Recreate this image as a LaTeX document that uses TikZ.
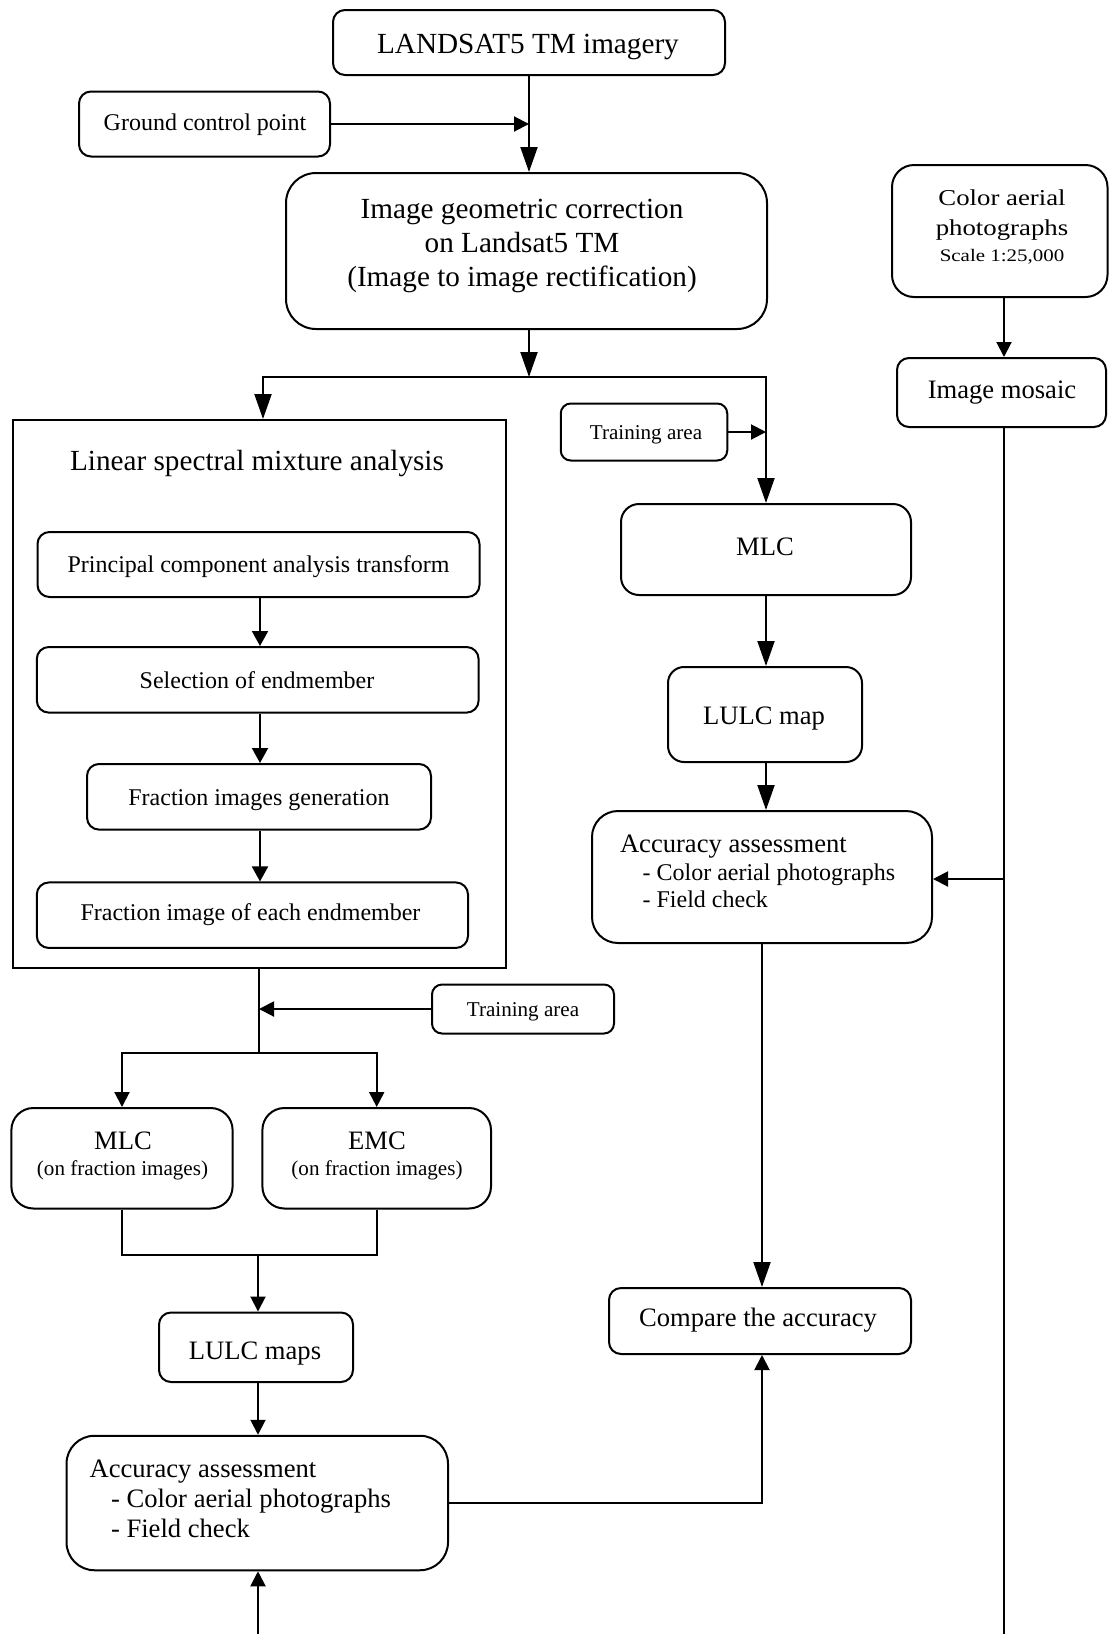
\documentclass[tikz,border=0pt]{standalone}
\usepackage{fontspec}
\setmainfont{Liberation Serif}
\usetikzlibrary{arrows.meta}
\newcommand\FSbig{\fontsize{29.2}{34}\selectfont}
\newcommand\FSmid{\fontsize{26.6}{30}\selectfont}
\newcommand\FSsub{\fontsize{24}{28}\selectfont}
\newcommand\FSsmall{\fontsize{21.1}{25}\selectfont}
\newcommand\FScol{\fontsize{22.7}{27}\selectfont}
\newcommand\FSscl{\fontsize{17.6}{21}\selectfont}
\begin{document}
\begin{tikzpicture}[x=1pt,y=-1pt,line width=2pt,
  rbox/.style={draw,rectangle,inner sep=0pt,line width=2pt},
  txt/.style={anchor=base,inner sep=0pt},
  ltxt/.style={anchor=base west,inner sep=0pt},
  bigtip/.style={-{Triangle[length=25pt,width=17pt]}},
  midtip/.style={-{Triangle[length=15pt,width=16pt]}},
  smalltip/.style={-{Triangle[length=15pt,width=15pt]}}]
\useasboundingbox (0,0) rectangle (1109,1634);

% boxes
\node[rbox,rounded corners=12pt,minimum width=392pt,minimum height=65pt] (land) at (529,42.5) {};
\node[rbox,rounded corners=12pt,minimum width=251pt,minimum height=65pt] (gcp) at (204.5,124) {};
\node[rbox,rounded corners=30pt,minimum width=481pt,minimum height=156pt] (igc) at (526.5,251) {};
\node[rbox,rounded corners=22pt,minimum width=215.5pt,minimum height=132pt] (col) at (999.75,231) {};
\node[rbox,rounded corners=12pt,minimum width=209pt,minimum height=69pt] (mos) at (1001.5,392.5) {};
\node[rbox,rounded corners=10pt,minimum width=166.5pt,minimum height=57pt] (tr1) at (644,432) {};
\node[rbox,rounded corners=18pt,minimum width=290pt,minimum height=91pt] (mlc1) at (766,549.5) {};
\node[rbox,rounded corners=16pt,minimum width=194pt,minimum height=95pt] (lulc1) at (765,714.5) {};
\node[rbox,rounded corners=26pt,minimum width=340pt,minimum height=132pt] (acc1) at (762,877) {};
\node[rbox,rounded corners=12pt,minimum width=302pt,minimum height=66pt] (cmp) at (760,1321) {};
\node[rbox,minimum width=493.5pt,minimum height=547.5pt] (lsma) at (259.25,693.75) {};
\node[rbox,rounded corners=12pt,minimum width=442pt,minimum height=65pt] (pca) at (258.5,564.5) {};
\node[rbox,rounded corners=12pt,minimum width=441.8pt,minimum height=65.6pt] (sel) at (257.7,679.8) {};
\node[rbox,rounded corners=12pt,minimum width=344pt,minimum height=65.6pt] (fgen) at (259,796.8) {};
\node[rbox,rounded corners=12pt,minimum width=431.2pt,minimum height=65.5pt] (feach) at (252.4,915.2) {};
\node[rbox,rounded corners=10pt,minimum width=182pt,minimum height=49pt] (tr2) at (523,1009) {};
\node[rbox,rounded corners=22pt,minimum width=221.2pt,minimum height=100.5pt] (mlc2) at (122,1158.25) {};
\node[rbox,rounded corners=22pt,minimum width=228.6pt,minimum height=100.5pt] (emc) at (376.7,1158.25) {};
\node[rbox,rounded corners=12pt,minimum width=194pt,minimum height=69.5pt] (lulc2) at (256,1347.25) {};
\node[rbox,rounded corners=28pt,minimum width=381.5pt,minimum height=134.5pt] (acc2) at (257.25,1503) {};

% texts
\node[txt,font=\FSbig] (landt) at (528,53.5) {LANDSAT5 TM imagery};
\node[txt,font=\FSsub] (gcpt) at (205,130.5) {Ground control point};
\node[txt,font=\FSbig] (igct1) at (522,218.5) {Image geometric correction};
\node[txt,font=\FSbig] (igct2) at (522,252.5) {on Landsat5 TM};
\node[txt,font=\FSbig] (igct3) at (522,286.5) {(Image to image rectification)};
\node[txt,font=\FScol] (colt1) at (1002,205) {\scalebox{1.18}[1]{Color aerial}};
\node[txt,font=\FScol] (colt2) at (1002,235) {\scalebox{1.18}[1]{photographs}};
\node[txt,font=\FSscl] (colt3) at (1002,261.5) {\scalebox{1.19}[1]{Scale 1:25,000}};
\node[txt,font=\FSmid] (most) at (1002,398.3) {Image mosaic};
\node[txt,font=\FSsmall] (tr1t) at (646,439) {Training area};
\node[txt,font=\FSmid] (mlc1t) at (765,555) {MLC};
\node[txt,font=\FSmid] (lulc1t) at (764,724.4) {LULC map};
\node[ltxt,font=\FSmid] (acc1a) at (619,852) {Accuracy assessment};
\node[ltxt,font=\FSsub] (acc1b) at (641.6,880) {- Color aerial photographs};
\node[ltxt,font=\FSsub] (acc1c) at (641.6,907.5) {- Field check};
\node[txt,font=\FSmid] (cmpt) at (758,1326.3) {Compare the accuracy};
\node[txt,font=\FSbig] (lsmat) at (257,470.5) {Linear spectral mixture analysis};
\node[txt,font=\FSsub] (pcat) at (258.6,572.6) {Principal component analysis transform};
\node[txt,font=\FSsub] (selt) at (257,688) {Selection of endmember};
\node[txt,font=\FSsub] (fgent) at (259,805.5) {Fraction images generation};
\node[txt,font=\FSsub] (feacht) at (250.5,920.5) {Fraction image of each endmember};
\node[txt,font=\FSsmall] (tr2t) at (523,1016) {Training area};
\node[txt,font=\FSmid] (mlc2t1) at (123,1149.2) {MLC};
\node[txt,font=\FSsmall] (mlc2t2) at (122.5,1175) {(on fraction images)};
\node[txt,font=\FSmid] (emct1) at (377,1149.2) {EMC};
\node[txt,font=\FSsmall] (emct2) at (377,1175) {(on fraction images)};
\node[txt,font=\FSmid] (lulc2t) at (255,1359) {LULC maps};
\node[ltxt,font=\FSmid] (acc2a) at (88.6,1477) {Accuracy assessment};
\node[ltxt,font=\FSmid] (acc2b) at (110,1507) {- Color aerial photographs};
\node[ltxt,font=\FSmid] (acc2c) at (110,1537) {- Field check};

% coordinates
\coordinate (br1) at (529,377);
\coordinate (bl) at (263,377);
\coordinate (brr) at (766,377);
\coordinate (b2) at (259,1053);
\coordinate (m2) at (258,1255);
\coordinate (bot) at (258,1634);
\coordinate (rv) at (1004,1634);
\coordinate (rj) at (1004,879);
\coordinate (ic) at (260,0);

% connectors
\draw[bigtip] (land.south) -- (land.south |- igc.north);
\draw[smalltip] (gcp.east) -- (gcp.east -| land.south);
\draw[bigtip] (brr) -- (bl) -- (bl |- lsma.north);
\draw[bigtip] (bl) -- (brr) -- (mlc1.north);
\draw[bigtip] (igc.south -| br1) -- (br1);
\draw[smalltip] (tr1.east) -- (tr1.east -| mlc1.north);
\draw[bigtip] (mlc1.south) -- (mlc1.south |- lulc1.north);
\draw[bigtip] (lulc1.south -| mlc1.south) -- (mlc1.south |- acc1.north);
\draw[bigtip] (acc1.south) -- (acc1.south |- cmp.north);
\draw[smalltip] (col.south -| rv) -- (mos.north -| rv);
\draw (mos.south -| rv) -- (rv);
\draw[smalltip] (rj) -- (rj -| acc1.east);
\draw[midtip] (pca.south -| ic) -- (sel.north -| ic);
\draw[midtip] (sel.south -| ic) -- (fgen.north -| ic);
\draw[midtip] (fgen.south -| ic) -- (feach.north -| ic);
\draw (lsma.south -| b2) -- (b2);
\draw[smalltip] (tr2.west) -- (tr2.west -| b2);
\draw[smalltip] (b2) -- (b2 -| mlc2.north) -- (mlc2.north);
\draw[smalltip] (b2) -- (b2 -| emc.north) -- (emc.north);
\draw (mlc2.south) -- (mlc2.south |- m2) -- (emc.south |- m2) -- (emc.south);
\draw[smalltip] (m2) -- (m2 |- lulc2.north);
\draw[smalltip] (lulc2.south -| bot) -- (bot |- acc2.north);
\draw[smalltip] (bot) -- (bot |- acc2.south);
\draw[smalltip] (acc2.east) -- (acc2.east -| acc1.south) -- (acc1.south |- cmp.south);
\end{tikzpicture}
\end{document}
